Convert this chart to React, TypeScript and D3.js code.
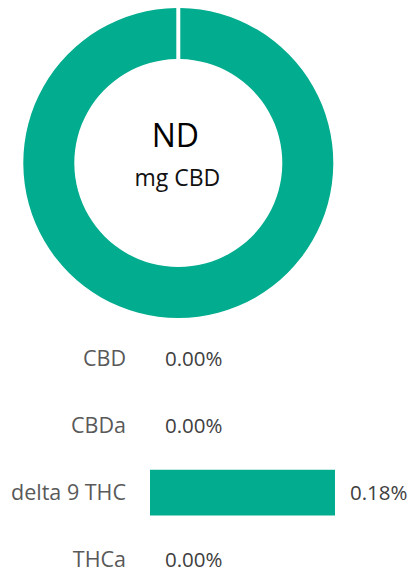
import React, { useRef, useEffect } from 'react';
import * as d3 from 'd3';

const donutValues = [1];
const centerValue = 'ND';
const centerUnit = 'mg CBD';

const categories = ['CBD', 'CBDa', 'delta 9 THC', 'THCa'];
const percentValues = [0, 0, 0.18, 0];

const TEAL = '#02ac8e';

const App: React.FC = () => {
  const ref = useRef<SVGSVGElement>(null);
  const width = 409;
  const height = 573;

  useEffect(() => {
    const svg = d3.select(ref.current);
    svg.selectAll('*').remove();

    // Donut
    const cx = 178.3;
    const cy = 163;
    const outerR = 155;
    const innerR = 104;
    const padRadius = Math.sqrt(outerR * outerR + innerR * innerR);

    const pie = d3.pie<number>()
      .sort(null)
      .endAngle(2 * Math.PI - 1e-6)
      .padAngle(4 / padRadius);

    const arc = d3.arc<d3.PieArcDatum<number>>()
      .innerRadius(innerR)
      .outerRadius(outerR);

    const donut = svg.append('g').attr('transform', `translate(${cx},${cy})`);
    donut.selectAll('path')
      .data(pie(donutValues))
      .join('path')
      .attr('fill', TEAL)
      .attr('d', arc);

    donut.append('text')
      .attr('x', -3)
      .attr('y', -16)
      .attr('text-anchor', 'middle')
      .attr('font-family', 'Open Sans, sans-serif')
      .attr('font-size', 32)
      .attr('fill', '#000')
      .text(centerValue);

    donut.append('text')
      .attr('x', -1)
      .attr('y', 23)
      .attr('text-anchor', 'middle')
      .attr('font-family', 'Open Sans, sans-serif')
      .attr('font-size', 23)
      .attr('fill', '#111')
      .text(centerUnit);

    // Bars
    const y = d3.scaleBand<string>()
      .domain(categories)
      .range([324.5, 593.5])
      .paddingInner(0.32)
      .paddingOuter(0.16);

    const x = d3.scaleLinear()
      .domain([0, d3.max(percentValues) as number])
      .range([150, 335]);

    const bars = svg.append('g');
    bars.selectAll('rect')
      .data(percentValues)
      .join('rect')
      .attr('x', x(0))
      .attr('y', (_, i) => y(categories[i]) as number)
      .attr('width', d => x(d) - x(0))
      .attr('height', y.bandwidth())
      .attr('fill', TEAL);

    bars.selectAll('text.cat')
      .data(categories)
      .join('text')
      .attr('class', 'cat')
      .attr('x', 126)
      .attr('y', d => (y(d) as number) + y.bandwidth() / 2)
      .attr('dy', '0.35em')
      .attr('text-anchor', 'end')
      .attr('font-family', 'Open Sans, sans-serif')
      .attr('font-size', 21.5)
      .attr('fill', '#595959')
      .text(d => d);

    bars.selectAll('text.val')
      .data(percentValues)
      .join('text')
      .attr('class', 'val')
      .attr('x', d => x(d) + 15)
      .attr('y', (_, i) => (y(categories[i]) as number) + y.bandwidth() / 2)
      .attr('dy', '0.36em')
      .attr('font-family', 'Open Sans, sans-serif')
      .attr('font-size', 20.5)
      .attr('fill', '#404040')
      .text(d => `${d.toFixed(2)}%`);
  }, []);

  return (
    <svg
      ref={ref}
      width={width}
      height={height}
      style={{ position: 'absolute', left: 0, top: 0 }}
    />
  );
};

export default App;
